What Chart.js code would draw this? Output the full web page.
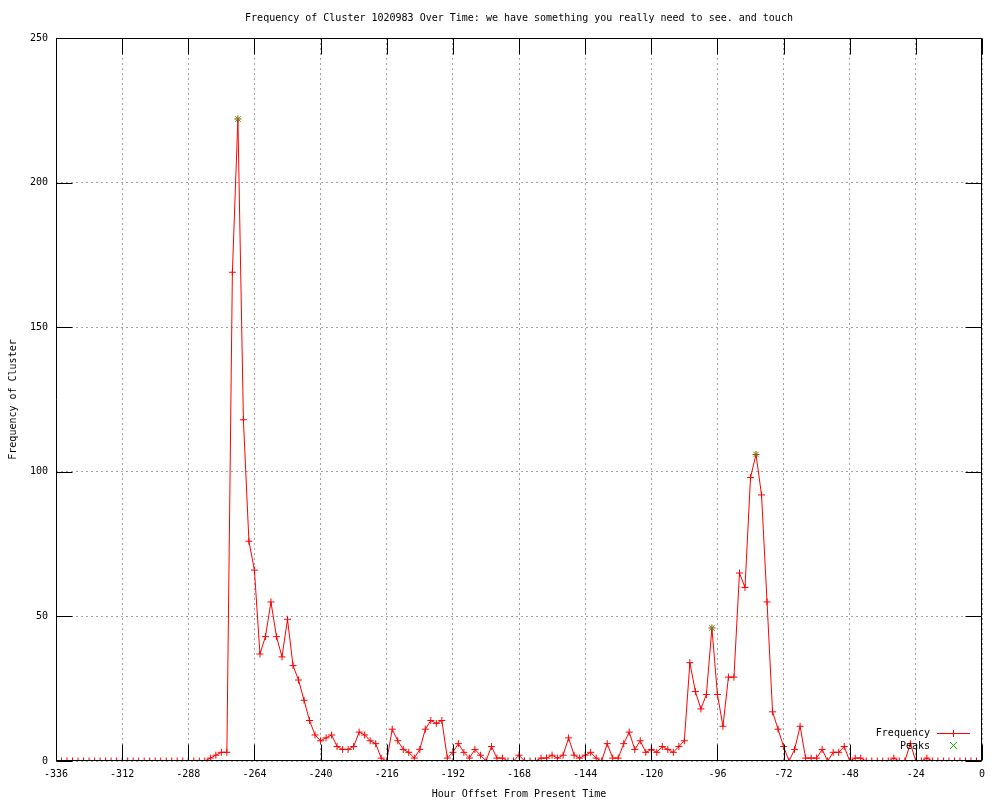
<!DOCTYPE html>
<html>
<head>
<meta charset="utf-8">
<script src="https://cdn.jsdelivr.net/npm/chart.js@4/dist/chart.umd.min.js"></script>
<style>
  html, body { margin: 0; padding: 0; background: #ffffff; }
  #wrap { width: 1000px; height: 800px; }
</style>
</head>
<body>
<div id="wrap"><canvas id="c" width="1000" height="800"></canvas></div>
<script>
// ---- data ----
const hours = [
  -336,-334,-332,-330,-328,-326,-324,-322,-320,-318,
  -316,-314,-312,-310,-308,-306,-304,-302,-300,-298,
  -296,-294,-292,-290,-288,-286,-284,-282,-280,-278,
  -276,-274,-272,-270,-268,-266,-264,-262,-260,-258,
  -256,-254,-252,-250,-248,-246,-244,-242,-240,-238,
  -236,-234,-232,-230,-228,-226,-224,-222,-220,-218,
  -216,-214,-212,-210,-208,-206,-204,-202,-200,-198,
  -196,-194,-192,-190,-188,-186,-184,-182,-180,-178,
  -176,-174,-172,-170,-168,-166,-164,-162,-160,-158,
  -156,-154,-152,-150,-148,-146,-144,-142,-140,-138,
  -136,-134,-132,-130,-128,-126,-124,-122,-120,-118,
  -116,-114,-112,-110,-108,-106,-104,-102,-100,-98,
  -96,-94,-92,-90,-88,-86,-84,-82,-80,-78,
  -76,-74,-72,-70,-68,-66,-64,-62,-60,-58,
  -56,-54,-52,-50,-48,-46,-44,-42,-40,-38,
  -36,-34,-32,-30,-28,-26,-24,-22,-20,-18,
  -16,-14,-12,-10,-8,-6,-4,-2,0
];
const frequency = [
  0,0,0,0,0,0,0,0,0,0,
  0,0,0,0,0,0,0,0,0,0,
  0,0,0,0,0,0,0,0,1,2,
  3,3,169,222,118,76,66,37,43,55,
  43,36,49,33,28,21,14,9,7,8,
  9,5,4,4,5,10,9,7,6,1,
  0,11,7,4,3,1,4,11,14,13,
  14,1,3,6,3,1,4,2,0,5,
  1,1,0,0,2,0,0,0,1,1,
  2,1,2,8,2,1,2,3,1,0,
  6,1,1,6,10,4,7,3,4,3,
  5,4,3,5,7,34,24,18,23,46,
  23,12,29,29,65,60,98,106,92,55,
  17,11,5,0,4,12,1,1,1,4,
  0,3,3,5,0,1,1,0,0,0,
  0,0,1,0,0,6,0,0,1,0,
  0,0,0,0,0,0,0,0,0
];
const peakHours = [-270, -98, -82];
const peakValues = [222, 46, 106];
const xTickValues = [-336,-312,-288,-264,-240,-216,-192,-168,-144,-120,-96,-72,-48,-24,0];
const yTickValues = [0,50,100,150,200,250];

const titleText = 'Frequency of Cluster 1020983 Over Time: we have something you really need to see. and touch';
const xTitle = 'Hour Offset From Present Time';
const yTitle = 'Frequency of Cluster';
const seriesNames = ['Frequency', 'Peaks'];

// ---- styles ----
const FONT = '"DejaVu Sans Mono", "Liberation Mono", monospace';
const RED = '#ff0000';
const GREEN = '#00c000';
const GRID = '#a0a0a0';
const TICKLEN = 16;

const framePlugin = {
  id: 'frame',
  afterDatasetsDraw(chart) {
    const ctx = chart.ctx;
    const a = chart.chartArea;
    const xs = chart.scales.x, ys = chart.scales.y;
    const L = Math.round(a.left) + 0.5, R = Math.round(a.right) - 0.5;
    const T = Math.round(a.top) + 0.5, B = Math.round(a.bottom) - 0.5;

    // border + inward ticks (mirrored)
    ctx.save();
    ctx.globalAlpha = 1;
    ctx.strokeStyle = '#000000';
    ctx.lineWidth = 1;
    ctx.setLineDash([]);
    ctx.beginPath();
    ctx.rect(L, T, R - L, B - T);
    xTickValues.forEach(v => {
      const px = Math.round(xs.getPixelForValue(v)) + 0.5;
      ctx.moveTo(px, B); ctx.lineTo(px, B - TICKLEN);
      ctx.moveTo(px, T); ctx.lineTo(px, T + TICKLEN);
    });
    yTickValues.forEach(v => {
      const py = Math.round(ys.getPixelForValue(v)) + 0.5;
      ctx.moveTo(L, py); ctx.lineTo(L + TICKLEN, py);
      ctx.moveTo(R, py); ctx.lineTo(R - TICKLEN, py);
    });
    ctx.stroke();
    ctx.restore();

    // title, centred over the plot area
    ctx.save();
    ctx.font = '10px ' + FONT;
    ctx.fillStyle = '#000000';
    ctx.textAlign = 'center';
    ctx.textBaseline = 'middle';
    ctx.fillText(titleText, (a.left + a.right) / 2, 18);
    ctx.restore();

    // legend (inside, bottom right)
    ctx.save();
    ctx.font = '10px ' + FONT;
    ctx.fillStyle = '#000000';
    ctx.textAlign = 'right';
    ctx.textBaseline = 'middle';
    ctx.fillText(seriesNames[0], 930, 733);
    ctx.fillText(seriesNames[1], 930, 746);
    ctx.restore();

    ctx.save();
    ctx.globalAlpha = 1;
    ctx.fillStyle = RED;
    ctx.fillRect(937, 733, 33, 1);
    ctx.fillRect(953, 730, 1, 7);
    ctx.restore();

    ctx.save();
    ctx.globalAlpha = 1;
    ctx.setLineDash([]);
    ctx.lineWidth = 1;
    ctx.strokeStyle = GREEN;
    ctx.beginPath();
    ctx.moveTo(950, 742); ctx.lineTo(957, 749);
    ctx.moveTo(957, 742); ctx.lineTo(950, 749);
    ctx.stroke();
    ctx.restore();
  }
};

new Chart(document.getElementById('c'), {
  type: 'line',
  data: {
    datasets: [
      {
        label: seriesNames[1],
        data: peakHours.map((h, i) => ({ x: h, y: peakValues[i] })),
        showLine: false,
        borderColor: GREEN,
        backgroundColor: GREEN,
        pointStyle: 'crossRot',
        pointRadius: 4,
        pointBorderWidth: 1,
        order: 0
      },
      {
        label: seriesNames[0],
        data: hours.map((h, i) => ({ x: h, y: frequency[i] })),
        borderColor: RED,
        backgroundColor: RED,
        borderWidth: 1,
        tension: 0,
        fill: false,
        pointStyle: 'cross',
        pointRadius: 3.5,
        pointBorderWidth: 1,
        order: 1
      }
    ]
  },
  options: {
    responsive: false,
    animation: false,
    devicePixelRatio: 1,
    events: [],
    layout: { padding: { left: 0, right: 18, top: 38, bottom: 0 } },
    plugins: {
      legend: { display: false },
      tooltip: { enabled: false },
      title: { display: false }
    },
    scales: {
      x: {
        type: 'linear',
        min: -336,
        max: 0,
        afterBuildTicks: s => { s.ticks = xTickValues.map(v => ({ value: v })); },
        afterFit: s => { s.height = 39; },
        ticks: {
          color: '#000000',
          font: { family: FONT, size: 10 },
          padding: 7,
          maxRotation: 0,
          autoSkip: false
        },
        grid: { color: GRID, lineWidth: 1, drawTicks: false },
        border: { display: false, dash: [2, 3] },
        title: {
          display: true,
          text: xTitle,
          color: '#000000',
          font: { family: FONT, size: 10, lineHeight: 1.2 },
          padding: { top: 0, bottom: 0 }
        }
      },
      y: {
        type: 'linear',
        min: 0,
        max: 250,
        afterBuildTicks: s => { s.ticks = yTickValues.map(v => ({ value: v })); },
        afterFit: s => { s.width = 56; },
        ticks: {
          color: '#000000',
          font: { family: FONT, size: 10 },
          padding: 8
        },
        grid: { color: GRID, lineWidth: 1, drawTicks: false },
        border: { display: false, dash: [2, 3] },
        title: {
          display: true,
          text: yTitle,
          color: '#000000',
          font: { family: FONT, size: 10, lineHeight: 1.2 },
          padding: { top: 7, bottom: 0 }
        }
      }
    }
  },
  plugins: [framePlugin]
});
</script>
</body>
</html>
